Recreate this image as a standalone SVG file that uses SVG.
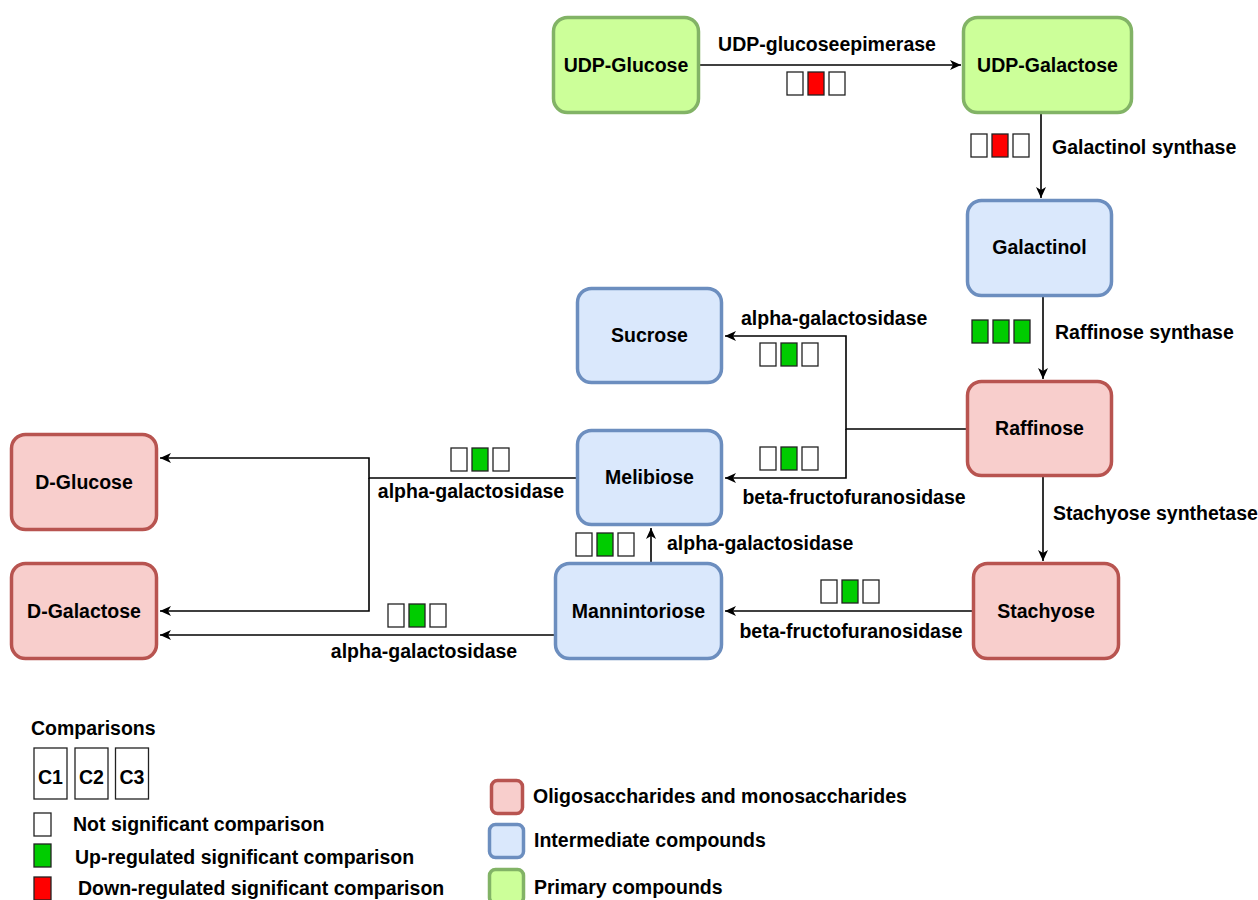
<svg xmlns="http://www.w3.org/2000/svg" width="1258" height="900" viewBox="0 0 1258 900">
<style>
text{font-family:"Liberation Sans",Arial,sans-serif;font-weight:bold;font-size:19.5px;fill:#000}
.c{text-anchor:middle}
.pri{fill:#ccff99;stroke:#82b366;stroke-width:3.5}
.int{fill:#dae8fc;stroke:#6c8ebf;stroke-width:3.5}
.oli{fill:#f8cecc;stroke:#b85450;stroke-width:3.5}
.w{fill:#fff;stroke:#222;stroke-width:1.3}
.g{fill:#00cc00;stroke:#222;stroke-width:1.3}
.r{fill:#ff0000;stroke:#222;stroke-width:1.3}
.ln{fill:none;stroke:#000;stroke-width:1.6}
.ar{marker-end:url(#arr)}
</style>
<defs>
<marker id="arr" markerUnits="userSpaceOnUse" markerWidth="12" markerHeight="10" refX="11" refY="5" orient="auto">
<path d="M0,0 L11,5 L0,10 L3,5 Z" fill="#000"/>
</marker>
</defs>
<rect width="1258" height="900" fill="#fff"/>

<g id="connectors">
<path class="ln ar" d="M700,65 H961"/>
<path class="ln ar" d="M1041,114 V198"/>
<path class="ln ar" d="M1043,297 V379"/>
<path class="ln ar" d="M966,429 H846 V336 H725"/>
<path class="ln ar" d="M846,429 V478 H725"/>
<path class="ln ar" d="M1043,477 V561"/>
<path class="ln ar" d="M972,611 H725"/>
<path class="ln ar" d="M576,478 H369 V458 H160"/>
<path class="ln ar" d="M369,478 V611 H160"/>
<path class="ln ar" d="M554,635 H160"/>
<path class="ln ar" d="M651,562 V528"/>
</g>

<g id="connector-labels">
<text class="c" x="827" y="51">UDP-glucoseepimerase</text>
<text x="1052" y="154">Galactinol synthase</text>
<text x="1055" y="339">Raffinose synthase</text>
<text x="741" y="325">alpha-galactosidase</text>
<text class="c" x="854" y="504">beta-fructofuranosidase</text>
<text x="1053" y="520">Stachyose synthetase</text>
<text class="c" x="471" y="498">alpha-galactosidase</text>
<text x="667" y="550">alpha-galactosidase</text>
<text class="c" x="851" y="638">beta-fructofuranosidase</text>
<text class="c" x="424" y="658">alpha-galactosidase</text>
</g>

<g id="comparison-boxes">
<g id="cmp-epimerase"><rect class="w" x="787" y="72" width="16" height="23"/><rect class="r" x="808" y="72" width="16" height="23"/><rect class="w" x="829" y="72" width="16" height="23"/></g>
<g id="cmp-galactinol"><rect class="w" x="971" y="134" width="16" height="23"/><rect class="r" x="992" y="134" width="16" height="23"/><rect class="w" x="1013" y="134" width="16" height="23"/></g>
<g id="cmp-raffinose"><rect class="g" x="972" y="320" width="16" height="23"/><rect class="g" x="993" y="320" width="16" height="23"/><rect class="g" x="1014" y="320" width="16" height="23"/></g>
<g id="cmp-sucrose"><rect class="w" x="760" y="343" width="16" height="23"/><rect class="g" x="781" y="343" width="16" height="23"/><rect class="w" x="802" y="343" width="16" height="23"/></g>
<g id="cmp-melibiose"><rect class="w" x="760" y="447" width="16" height="23"/><rect class="g" x="781" y="447" width="16" height="23"/><rect class="w" x="802" y="447" width="16" height="23"/></g>
<g id="cmp-dglucose"><rect class="w" x="451" y="448" width="16" height="23"/><rect class="g" x="472" y="448" width="16" height="23"/><rect class="w" x="493" y="448" width="16" height="23"/></g>
<g id="cmp-mann-meli"><rect class="w" x="576" y="533" width="16" height="23"/><rect class="g" x="597" y="533" width="16" height="23"/><rect class="w" x="618" y="533" width="16" height="23"/></g>
<g id="cmp-dgalactose"><rect class="w" x="388" y="604" width="16" height="23"/><rect class="g" x="409" y="604" width="16" height="23"/><rect class="w" x="430" y="604" width="16" height="23"/></g>
<g id="cmp-stachyose"><rect class="w" x="821" y="580" width="16" height="23"/><rect class="g" x="842" y="580" width="16" height="23"/><rect class="w" x="863" y="580" width="16" height="23"/></g>
</g>

<g id="udp-glucose"><rect class="pri" x="553.5" y="17.5" width="145" height="95" rx="14"/><text class="c" x="626" y="72">UDP-Glucose</text></g>
<g id="udp-galactose"><rect class="pri" x="963.5" y="17.5" width="168" height="95" rx="14"/><text class="c" x="1047.5" y="72">UDP-Galactose</text></g>
<g id="galactinol"><rect class="int" x="967.5" y="200.5" width="144" height="95" rx="14"/><text class="c" x="1039.5" y="254">Galactinol</text></g>
<g id="sucrose"><rect class="int" x="577.5" y="288.5" width="144" height="94" rx="14"/><text class="c" x="649.5" y="342">Sucrose</text></g>
<g id="raffinose"><rect class="oli" x="967.5" y="381.5" width="144" height="94" rx="14"/><text class="c" x="1039.5" y="435">Raffinose</text></g>
<g id="melibiose"><rect class="int" x="577.5" y="430.5" width="144" height="94" rx="14"/><text class="c" x="649.5" y="484">Melibiose</text></g>
<g id="d-glucose"><rect class="oli" x="11.5" y="434.5" width="145" height="95" rx="14"/><text class="c" x="84" y="489">D-Glucose</text></g>
<g id="d-galactose"><rect class="oli" x="11.5" y="563.5" width="145" height="95" rx="14"/><text class="c" x="84" y="618">D-Galactose</text></g>
<g id="mannintoriose"><rect class="int" x="555.5" y="563.5" width="166" height="95" rx="14"/><text class="c" x="638.5" y="618">Mannintoriose</text></g>
<g id="stachyose"><rect class="oli" x="973.5" y="563.5" width="145" height="95" rx="14"/><text class="c" x="1046" y="618">Stachyose</text></g>

<g id="legend-comparisons">
<text x="31" y="735">Comparisons</text>
<rect class="w" x="34" y="748" width="33" height="51"/>
<rect class="w" x="75" y="748" width="33" height="51"/>
<rect class="w" x="115.5" y="748" width="33" height="51"/>
<text class="c" x="50.5" y="784" font-size="27" textLength="25" lengthAdjust="spacingAndGlyphs">C1</text>
<text class="c" x="91.5" y="784" font-size="27" textLength="25" lengthAdjust="spacingAndGlyphs">C2</text>
<text class="c" x="132" y="784" font-size="27" textLength="25" lengthAdjust="spacingAndGlyphs">C3</text>
<rect class="w" x="34" y="813" width="17" height="23"/>
<text x="73" y="831">Not significant comparison</text>
<rect class="g" x="34" y="844" width="17" height="23"/>
<text x="75" y="864">Up-regulated significant comparison</text>
<rect class="r" x="34" y="877" width="17" height="23"/>
<text x="78" y="895">Down-regulated significant comparison</text>
</g>

<g id="legend-categories">
<rect class="oli" x="491.5" y="780.5" width="31" height="33" rx="6"/>
<text x="533" y="803">Oligosaccharides and monosaccharides</text>
<rect class="int" x="489.5" y="824.5" width="34" height="33" rx="6"/>
<text x="534" y="847">Intermediate compounds</text>
<rect class="pri" x="489.5" y="869.5" width="34" height="34" rx="6"/>
<text x="534" y="894">Primary compounds</text>
</g>
</svg>
